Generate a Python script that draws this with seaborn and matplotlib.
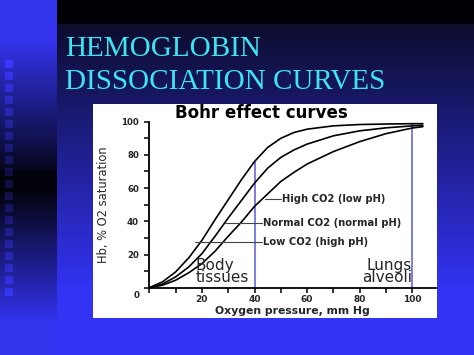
import numpy as np
import pandas as pd
import matplotlib
matplotlib.use("Agg")
import matplotlib.pyplot as plt
import seaborn as sns

# values
po2 = [0, 5, 10, 15, 20, 25, 30, 35, 40, 45, 50, 55, 60, 70, 80, 90, 100, 104]
sat_low_co2 = [0, 3.5, 9.5, 18, 28.5, 41, 53, 65, 76, 84.5, 90, 93.5, 95.5, 97.5, 98.3, 98.6, 98.8, 98.8]
sat_normal_co2 = [0, 2.2, 6.5, 12.5, 20.5, 31, 42, 52.5, 63, 72, 78.5, 83, 86.5, 91.5, 94.5, 96.3, 97.5, 97.8]
sat_high_co2 = [0, 1.5, 4.5, 9, 14.5, 22, 31, 39.5, 49, 56.5, 64, 69.5, 74.5, 82, 88, 92.8, 96.2, 97]
curve_names = ["Low CO2 (high pH)", "Normal CO2 (normal pH)", "High CO2 (low pH)"]
marker_x = [40, 100]
marker_top = [76, 98.5]
xtick_vals = [20, 40, 60, 80, 100]
ytick_vals = [20, 40, 60, 80, 100]

df = pd.DataFrame({
    "po2": po2 * 3,
    "sat": sat_low_co2 + sat_normal_co2 + sat_high_co2,
    "curve": [curve_names[0]] * len(po2) + [curve_names[1]] * len(po2) + [curve_names[2]] * len(po2),
})

sns.set_theme(style="ticks")
plt.rcParams['font.family'] = ['DejaVu Sans']

W, H = 474, 355
fig = plt.figure(figsize=(W / 100, H / 100), dpi=100)

# slide background
bg = np.zeros((H, W, 3))
t = np.clip((np.arange(H) - 24) / (290 - 24), 0, 1)[:, None]
top = np.array([0.05, 0.05, 0.18])
bot = np.array([0.20, 0.20, 0.96])
bg[:] = (top + (bot - top) * t)[:, None, :]
bg[:24, 57:] = [0.0, 0.0, 0.03]
ys = np.arange(H)
bright = np.array([0.20, 0.20, 0.93])
k = np.ones(H)
k[ys < 180] = np.clip(1 - (ys[ys < 180] - 40) / 140, 0, 1)
k[ys >= 180] = np.clip((ys[ys >= 180] - 190) / 130, 0, 1)
k[(ys >= 170) & (ys < 190)] = 0
strip = bright[None, :] * (0.05 + 0.95 * k[:, None])
bg[:, :57] = strip[:, None, :]
for yy in range(60, 300, 12):
    bg[yy:yy + 8, 5:13] = np.minimum(bg[yy:yy + 8, 5:13] + [0.05, 0.05, 0.22], 1)
bax = fig.add_axes([0, 0, 1, 1])
bax.imshow(bg, aspect="auto", extent=(0, W, H, 0))
bax.axis("off")

cyan = "#3ee4f2"
fig.text(65 / W, 1 - 56 / H, "HEMOGLOBIN", family="Liberation Serif", fontsize=21, color=cyan, va="baseline")
fig.text(65 / W, 1 - 89 / H, "DISSOCIATION CURVES", family="Liberation Serif", fontsize=21, color=cyan, va="baseline")

# white panel
pax = fig.add_axes([93 / W, 1 - 318 / H, (437 - 93) / W, (318 - 104) / H])
pax.set_facecolor("white")
pax.set_xlim(0, 1)
pax.set_ylim(0, 1)
pax.set_xticks([])
pax.set_yticks([])
for s in pax.spines.values():
    s.set_visible(False)
pax.text(0.49, 0.96, "Bohr effect curves", transform=pax.transAxes, ha="center", va="center",
         fontsize=12, fontweight="heavy", color="black", clip_on=True)

ax = fig.add_axes([149.3 / W, 1 - 287.7 / H, (436 - 149.3) / W, (287.7 - 121.7) / H])
ax.set_facecolor("none")
sns.lineplot(data=df, x="po2", y="sat", units="curve", estimator=None, color="black",
             linewidth=1.2, ax=ax, legend=False)

for xv, tv in zip(marker_x, marker_top):
    ax.plot([xv, xv], [0, tv], color="#7272e2", linewidth=1.3, zorder=1)

ax.set_xlim(0, 109)
ax.set_ylim(0, 100)
ax.set_xticks(xtick_vals)
ax.set_xticks(range(0, 101, 10), minor=True)
ax.set_yticks(ytick_vals)
ax.set_yticks(range(0, 101, 10), minor=True)
ax.tick_params(which="both", direction="out", length=3.5, width=1.1, color="black")
ax.tick_params(axis="x", labelsize=6.5, pad=1.5)
ax.tick_params(axis="y", labelsize=6.2, pad=4)
for lab in ax.get_xticklabels() + ax.get_yticklabels():
    lab.set_fontweight("bold")
sns.despine(ax=ax)
for s in ["left", "bottom"]:
    ax.spines[s].set_linewidth(1.3)
    ax.spines[s].set_color("black")
ax.text(-5.0, -4.8, "0", fontsize=6.3, fontweight="bold", ha="center", va="center", clip_on=False)

ax.set_xlabel("Oxygen pressure, mm Hg", fontsize=7.8, fontweight="bold", labelpad=1.5)
ax.set_ylabel("Hb, % O2 saturation", fontsize=8.3, family=["Liberation Sans Narrow", "DejaVu Sans"], labelpad=8)

# curve annotations
ann = [(43.8, 50.0, 53.4, curve_names[2]), (28.8, 42.8, 39.2, curve_names[1]), (17.4, 42.8, 27.7, curve_names[0])]
for x0, x1, yv, txt in ann:
    ax.plot([x0, x1], [yv, yv], color="#444444", linewidth=0.8)
    ax.text(x1 + 0.3, yv, txt, fontsize=7.2, fontweight="bold", va="center", ha="left")

ax.text(17.5, 1.4, "Body\ntissues", fontsize=11, ha="left", va="bottom", linespacing=0.8)
ax.text(99.8, 1.4, "Lungs\nalveoli", fontsize=11, ha="right", va="bottom", linespacing=0.8, multialignment="right")

fig.savefig("out.png", dpi=100)
